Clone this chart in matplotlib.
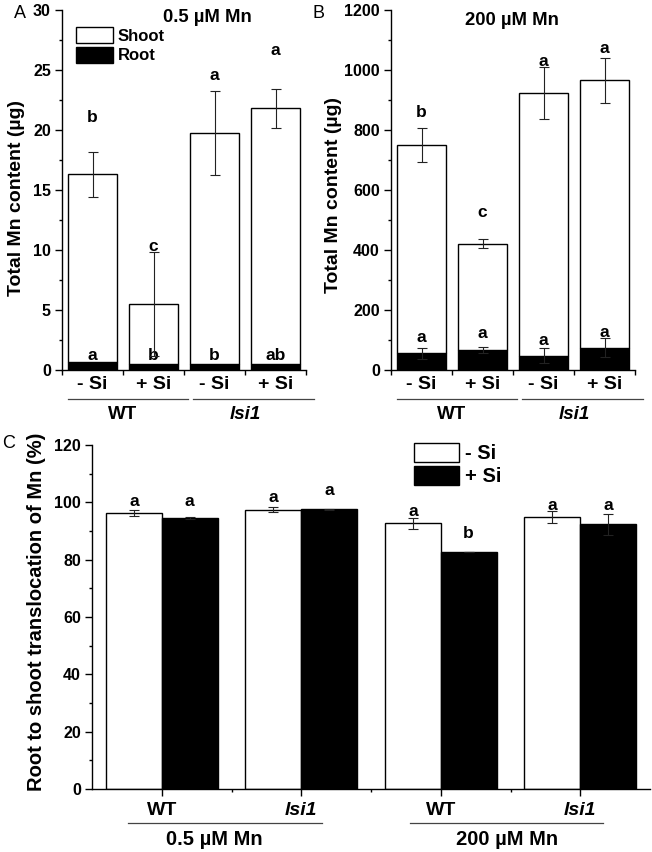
import numpy as np
import matplotlib
matplotlib.use("Agg")
import matplotlib.pyplot as plt
from matplotlib.patches import Patch
from matplotlib.lines import Line2D
import matplotlib.transforms as mtransforms

plt.rcParams['font.family'] = ['Liberation Sans', 'DejaVu Sans']
plt.rcParams['font.weight'] = 'bold'
plt.rcParams['axes.linewidth'] = 1.0

# ---------------- data ----------------
treatments = ['- Si', '+ Si', '- Si', '+ Si']
genotypes = ['WT', 'lsi1']
mn_levels = ['0.5 µM Mn', '200 µM Mn']

# Panel A (0.5 uM Mn), ug
A_root = [0.65, 0.5, 0.5, 0.5]
A_shoot = [15.65, 5.0, 19.25, 21.3]
A_shoot_err = [1.9, 4.3, 3.5, 1.6]
A_shoot_letters = ['b', 'c', 'a', 'a']
A_root_letters = ['a', 'b', 'b', 'ab']
A_shoot_letter_y = [20.7, 9.95, 24.2, 26.25]
A_root_letter_y = [0.8, 0.8, 0.8, 0.8]

# Panel B (200 uM Mn), ug
B_root = [55, 67, 47, 74]
B_root_err = [19, 11, 25, 32]
B_shoot = [695, 354, 877, 891]
B_shoot_err = [58, 14, 87, 75]
B_shoot_letters = ['b', 'c', 'a', 'a']
B_root_letters = ['a', 'a', 'a', 'a']
B_shoot_letter_y = [842, 511, 1014, 1058]
B_root_letter_y = [92, 106, 83, 111]

# Panel C, translocation %
C_groups = ['WT', 'lsi1', 'WT', 'lsi1']
C_minus = [96.3, 97.4, 92.7, 94.8]
C_minus_err = [1.0, 0.8, 2.0, 2.1]
C_plus = [94.5, 97.6, 82.6, 92.3]
C_plus_err = [0.4, 0.2, 0.0, 3.6]
C_minus_letters = ['a', 'a', 'a', 'a']
C_plus_letters = ['a', 'a', 'b', 'a']
C_minus_letter_y = [98.8, 100.2, 95.2, 97.3]
C_plus_letter_y = [98.8, 102.5, 87.4, 97.3]

# ---------------- figure ----------------
W, H = 652, 852
fig = plt.figure(figsize=(W / 100, H / 100), dpi=100)


def px_axes(l, t, r, b):
    return fig.add_axes([l / W, 1 - b / H, (r - l) / W, (b - t) / H])


ERR = dict(fmt='none', ecolor='#222222', elinewidth=0.8, capsize=3.5, capthick=0.8, zorder=5)
TICKFS = 11.5
LETFS = 12.5
XLFS = 14


def style_axes(ax):
    for s in ['top', 'right']:
        ax.spines[s].set_visible(False)
    ax.tick_params(axis='y', which='major', direction='out', length=5, width=1,
                   labelsize=TICKFS, pad=3)
    ax.tick_params(axis='y', which='minor', direction='out', length=2.5, width=1)


def stacked_panel(ax, root, shoot, shoot_err, root_err, ymax, ystep, title, title_pos,
                  shoot_letters, root_letters, shoot_ly, root_ly):
    x = np.arange(1, len(root) + 1)
    total = np.array(root) + np.array(shoot)
    ax.bar(x, root, width=0.8, color='black', edgecolor='black', lw=1, zorder=2)
    ax.bar(x, shoot, bottom=root, width=0.8, color='white', edgecolor='black', lw=1, zorder=2)
    ax.errorbar(x, total, yerr=shoot_err, **ERR)
    if root_err is not None:
        ax.errorbar(x, root, yerr=root_err, **ERR)
    for xi, l, y in zip(x, shoot_letters, shoot_ly):
        ax.text(xi, y, l, ha='center', va='baseline', fontsize=LETFS)
    for xi, l, y in zip(x, root_letters, root_ly):
        ax.text(xi, y, l, ha='center', va='baseline', fontsize=LETFS)
    ax.set_xlim(0.5, 4.5)
    ax.set_ylim(0, ymax)
    ax.set_yticks(np.arange(0, ymax + 1e-9, ystep))
    ax.set_yticks(np.arange(ystep / 2, ymax, ystep), minor=True)
    ax.set_xticks(x)
    ax.set_xticklabels(treatments, fontsize=XLFS)
    ax.set_xticks(np.arange(0.5, 4.51, 1), minor=True)
    ax.tick_params(axis='x', which='major', length=0, pad=4.5)
    ax.tick_params(axis='x', which='minor', direction='out', length=3.5, width=1)
    style_axes(ax)
    ax.text(title_pos[0], title_pos[1], title, transform=ax.transAxes, ha='center',
            va='center', fontsize=13.3)
    trans = mtransforms.blended_transform_factory(ax.transData, ax.transAxes)
    for (x0, x1), g, xc in zip([(0.6, 2.57), (2.65, 4.63)], genotypes, [1.5, 3.5]):
        ax.add_line(Line2D([x0, x1], [-0.081, -0.081], transform=trans, color='#444444',
                           lw=0.9, clip_on=False))
        ax.text(xc, -0.125, g, transform=trans, ha='center', va='center', fontsize=13.5,
                style='italic' if g == 'lsi1' else 'normal')


# Panel A
axA = px_axes(62, 10, 306, 370)
stacked_panel(axA, A_root, A_shoot, A_shoot_err, None, 30, 5, mn_levels[0], (0.596, 0.978),
              A_shoot_letters, A_root_letters, A_shoot_letter_y, A_root_letter_y)
axA.legend(handles=[Patch(facecolor='white', edgecolor='black', lw=1, label='Shoot'),
                    Patch(facecolor='black', edgecolor='black', lw=1, label='Root')],
           loc='upper left', bbox_to_anchor=(0.057, 0.952), frameon=False, fontsize=12,
           handlelength=2.2, handleheight=1.08, labelspacing=0.18, handletextpad=0.3,
           borderpad=0, borderaxespad=0)

# Panel B
axB = px_axes(391, 10, 635, 370)
stacked_panel(axB, B_root, B_shoot, B_shoot_err, B_root_err, 1200, 200, mn_levels[1], (0.496, 0.97),
              B_shoot_letters, B_root_letters, B_shoot_letter_y, B_root_letter_y)

# Panel C
axC = px_axes(92, 445, 650, 789)
xc = np.arange(1, 5)
axC.bar(xc - 0.2, C_minus, width=0.4, color='white', edgecolor='black', lw=1, zorder=2)
axC.bar(xc + 0.2, C_plus, width=0.4, color='black', edgecolor='black', lw=1, zorder=2)
axC.errorbar(xc - 0.2, C_minus, yerr=C_minus_err, **ERR)
axC.errorbar(xc + 0.2, C_plus, yerr=C_plus_err, **ERR)
for xi, l, y in zip(xc - 0.2, C_minus_letters, C_minus_letter_y):
    axC.text(xi, y, l, ha='center', va='baseline', fontsize=LETFS)
for xi, l, y in zip(xc + 0.2, C_plus_letters, C_plus_letter_y):
    axC.text(xi, y, l, ha='center', va='baseline', fontsize=LETFS)
axC.set_xlim(0.5, 4.5)
axC.set_ylim(0, 120)
axC.set_yticks(np.arange(0, 121, 20))
axC.set_yticks(np.arange(10, 120, 20), minor=True)
axC.set_xticks(xc)
axC.set_xticklabels(C_groups, fontsize=XLFS)
for lab in axC.get_xticklabels():
    if lab.get_text() == 'lsi1':
        lab.set_style('italic')
axC.set_xticks([1.5, 2.5, 3.5], minor=True)
axC.tick_params(axis='x', which='major', direction='out', length=5, width=1, pad=4.5)
axC.tick_params(axis='x', which='minor', direction='out', length=2.5, width=1)
style_axes(axC)
transC = mtransforms.blended_transform_factory(axC.transData, axC.transAxes)
for (x0, x1), xm, m in zip([(0.76, 2.15), (2.78, 4.16)], [1.38, 3.475], mn_levels):
    axC.add_line(Line2D([x0, x1], [-0.099, -0.099], transform=transC, color='#444444',
                        lw=0.9, clip_on=False))
    axC.text(xm, -0.148, m, transform=transC, ha='center', va='center', fontsize=14.5)
axC.legend(handles=[Patch(facecolor='white', edgecolor='black', lw=1, label='- Si'),
                    Patch(facecolor='black', edgecolor='black', lw=1, label='+ Si')],
           loc='upper left', bbox_to_anchor=(0.577, 1.006), frameon=False, fontsize=14.5,
           handlelength=2.24, handleheight=1.05, labelspacing=0.15, handletextpad=0.3,
           borderpad=0, borderaxespad=0)

# y labels
fig.text(17 / W, 1 - 198 / H, 'Total Mn content (µg)', rotation=90, ha='center', va='center', fontsize=14)
fig.text(334 / W, 1 - 195 / H, 'Total Mn content (µg)', rotation=90, ha='center', va='center', fontsize=14)
fig.text(37 / W, 1 - 612 / H, 'Root to shoot translocation of Mn (%)', rotation=90,
         ha='center', va='center', fontsize=14.5)

# panel letters
for lab, xp, yp in [('A', 19.5, 13), ('B', 318, 14), ('C', 8.5, 443)]:
    fig.text(xp / W, 1 - yp / H, lab, ha='center', va='center', fontsize=13, weight='normal')

fig.savefig('out.png', dpi=100)
